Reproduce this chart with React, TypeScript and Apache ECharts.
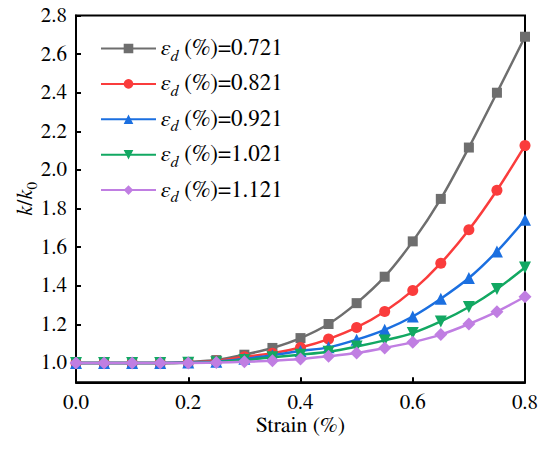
import React, { useEffect, useRef } from "react";
import * as echarts from "echarts";

const STRAIN = [0, 0.05, 0.1, 0.15, 0.2, 0.25, 0.3, 0.35, 0.4, 0.45, 0.5, 0.55, 0.6, 0.65, 0.7, 0.75, 0.8];
const LEGEND_VALUES = ["0.721", "0.821", "0.921", "1.021", "1.121"];
const K_0721 = [1, 1, 1, 1, 1.005, 1.015, 1.043, 1.078, 1.129, 1.202, 1.31, 1.447, 1.63, 1.85, 2.116, 2.4, 2.69];
const K_0821 = [1, 1, 1, 1, 1.003, 1.01, 1.032, 1.05, 1.08, 1.124, 1.184, 1.267, 1.376, 1.517, 1.69, 1.895, 2.126];
const K_0921 = [1, 1, 1, 1, 1.002, 1.007, 1.022, 1.04, 1.062, 1.081, 1.121, 1.172, 1.241, 1.333, 1.44, 1.578, 1.742];
const K_1021 = [1, 1, 1, 1, 1.001, 1.004, 1.015, 1.03, 1.043, 1.058, 1.085, 1.117, 1.155, 1.215, 1.29, 1.383, 1.495];
const K_1121 = [1, 1, 1, 1, 1, 1.002, 1.006, 1.012, 1.021, 1.035, 1.052, 1.078, 1.108, 1.147, 1.202, 1.266, 1.343];
const Y_TICKS = [1.0, 1.2, 1.4, 1.6, 1.8, 2.0, 2.2, 2.4, 2.6, 2.8];

const SERIES_VALUES = [K_0721, K_0821, K_0921, K_1021, K_1121];
const COLORS = ["#6e6e6e", "#fa3c3c", "#1b6fe0", "#12a862", "#c07ee2"];
const SYMBOLS = ["rect", "circle", "triangle", "triangle", "diamond"];
const SYMBOL_SIZES = [10, 11, 12, 12, 13];
const SYMBOL_ROTATE = [0, 0, 0, 180, 0];

const FONT = "FreeSerif";

export default function App() {
  const ref = useRef<HTMLDivElement>(null);
  useEffect(() => {
    document.body.style.margin = "0";
    const chart = echarts.init(ref.current!, null, { renderer: "svg" });
    const series = SERIES_VALUES.map((vals, i) => ({
      name: LEGEND_VALUES[i],
      type: "line",
      data: STRAIN.map((x, j) => [x, vals[j]]),
      smooth: 0.3,
      symbol: SYMBOLS[i],
      symbolSize: SYMBOL_SIZES[i],
      symbolRotate: SYMBOL_ROTATE[i],
      showAllSymbol: true,
      lineStyle: { color: COLORS[i], width: 2.5 },
      itemStyle: { color: COLORS[i] },
      z: 2 + i,
    }));
    chart.setOption({
      animation: false,
      textStyle: { fontFamily: FONT },
      grid: {
        left: 76,
        right: 25,
        top: 15.5,
        bottom: 66.7,
        show: true,
        borderColor: "#000",
        borderWidth: 2,
        outerBoundsMode: "none",
      },
      legend: {
        orient: "vertical",
        left: 95,
        top: 32,
        itemWidth: 55,
        itemHeight: 12,
        itemGap: 8.9,
        formatter: (name: string) => `{e|ε}{d|d}{t| (%)=${name}}`,
        textStyle: {
          fontFamily: FONT,
          fontSize: 23,
          color: "#000",
          rich: {
            e: { fontFamily: FONT, fontSize: 23, fontStyle: "italic", lineHeight: 24, verticalAlign: "middle" },
            d: { fontFamily: FONT, fontSize: 16, fontStyle: "italic", lineHeight: 30, verticalAlign: "bottom" },
            t: { fontFamily: FONT, fontSize: 23, lineHeight: 24, verticalAlign: "middle" },
          },
        },
      },
      xAxis: {
        type: "value",
        min: 0,
        max: 0.8,
        interval: 0.2,
        name: "Strain (%)",
        nameLocation: "middle",
        nameGap: 32,
        nameMoveOverlap: false,
        nameTextStyle: { fontFamily: FONT, fontSize: 22, color: "#000" },
        axisLine: { lineStyle: { color: "#000", width: 2 } },
        axisTick: { inside: true, length: 5, lineStyle: { color: "#000", width: 2 } },
        axisLabel: {
          fontFamily: FONT,
          fontSize: 21,
          color: "#000",
          margin: 10,
          formatter: (v: number) => v.toFixed(1),
        },
        splitLine: { show: false },
      },
      yAxis: {
        type: "value",
        min: 0.9,
        max: 2.8,
        name: "{i|k}{n|/}{i|k}{s|0}",
        nameLocation: "middle",
        nameGap: 36,
        nameMoveOverlap: false,
        nameRotate: 90,
        nameTextStyle: {
          fontFamily: FONT,
          fontSize: 22,
          color: "#000",
          rich: {
            i: { fontFamily: FONT, fontSize: 22, fontStyle: "italic", lineHeight: 24, verticalAlign: "middle" },
            n: { fontFamily: FONT, fontSize: 22, lineHeight: 24, verticalAlign: "middle" },
            s: { fontFamily: FONT, fontSize: 15, lineHeight: 30, verticalAlign: "bottom" },
          },
        },
        axisLine: { show: true, lineStyle: { color: "#000", width: 2 } },
        axisTick: { show: true, inside: true, length: 5, customValues: Y_TICKS, lineStyle: { color: "#000", width: 2 } },
        axisLabel: {
          fontFamily: FONT,
          fontSize: 21,
          color: "#000",
          margin: 9,
          customValues: Y_TICKS,
          formatter: (v: number) => v.toFixed(1),
        },
        splitLine: { show: false },
      },
      series,
    });
    return () => chart.dispose();
  }, []);
  return <div ref={ref} style={{ width: 550, height: 449 }} />;
}
